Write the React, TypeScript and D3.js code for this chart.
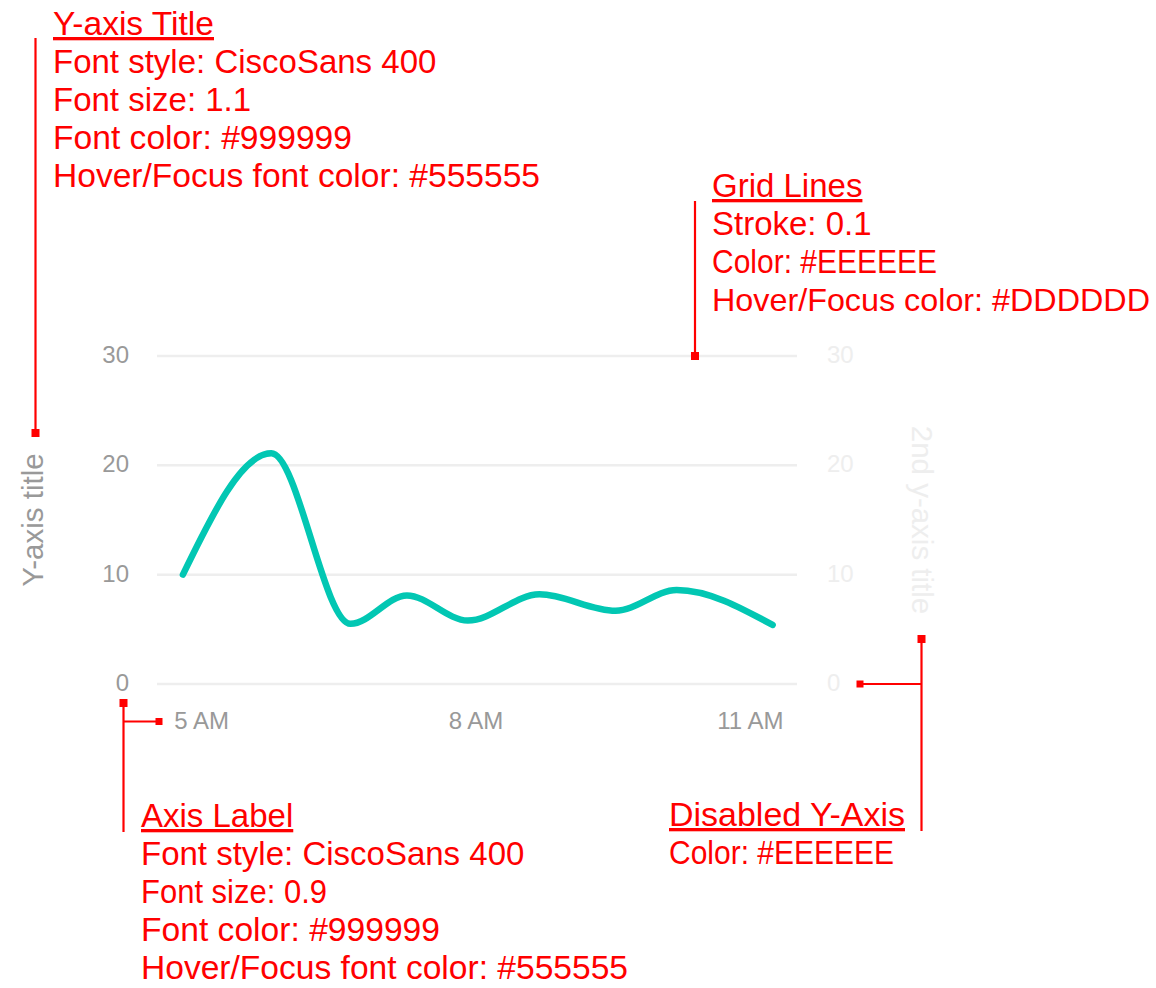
import React from "react";
import * as d3 from "d3";

// ---- data ----
const times = ["04:47", "05:45", "06:37", "07:14", "07:54", "08:41", "09:31", "10:11", "11:14"];
const values = [10.0, 21.1, 5.5, 8.1, 5.8, 8.2, 6.7, 8.6, 5.4];
const xTickTimes = ["05:00", "08:00", "11:00"];
const yTicks = [0, 10, 20, 30];
const yTitle = "Y-axis title";
const y2Title = "2nd y-axis title";

const noteYTitle = ["Y-axis Title", "Font style: CiscoSans 400", "Font size: 1.1", "Font color: #999999", "Hover/Focus font color: #555555"];
const noteGrid = ["Grid Lines", "Stroke: 0.1", "Color: #EEEEEE", "Hover/Focus color: #DDDDDD"];
const noteAxisLabel = ["Axis Label", "Font style: CiscoSans 400", "Font size: 0.9", "Font color: #999999", "Hover/Focus font color: #555555"];
const noteDisabled = ["Disabled Y-Axis", "Color: #EEEEEE"];

const parse = d3.timeParse("%H:%M");
const fmt = d3.timeFormat("%-I %p");

const FONT = "'Liberation Sans', Arial, sans-serif";
const RED = "#FF0000";

function Note({
  x,
  y,
  lines,
  widths = [],
  sizes = [],
}: {
  x: number;
  y: number;
  lines: string[];
  widths?: (number | undefined)[];
  sizes?: (number | undefined)[];
}) {
  return (
    <g fontFamily={FONT} fontSize={33} fill={RED}>
      {lines.map((l, i) => (
        <text
          key={i}
          x={x}
          y={y + i * 38}
          fontSize={sizes[i]}
          textDecoration={i === 0 ? "underline" : undefined}
          textLength={widths[i]}
          lengthAdjust={widths[i] ? "spacingAndGlyphs" : undefined}
        >
          {l}
        </text>
      ))}
    </g>
  );
}

function Marker({ x, y, s = 8 }: { x: number; y: number; s?: number }) {
  return <rect x={x - s / 2} y={y - s / 2} width={s} height={s} fill={RED} />;
}

export default function App() {
  const W = 1156;
  const H = 988;
  const x = d3.scaleTime().domain([parse("04:30")!, parse("11:30")!]).range([157, 797]);
  const y = d3.scaleLinear().domain([0, 30]).range([684, 356]);
  const pts = times.map((t, i) => ({ t: parse(t)!, v: values[i] }));
  const line = d3
    .line<{ t: Date; v: number }>()
    .x((d) => x(d.t))
    .y((d) => y(d.v))
    .curve(d3.curveMonotoneX);
  const [x0, x1] = x.range();
  const yMid = (y(0) + y(30)) / 2;

  return (
    <svg width={W} height={H} style={{ position: "absolute", left: 0, top: 0, background: "#fff" }}>
      {/* grid */}
      {yTicks.map((t) => (
        <line key={t} x1={x0} x2={x1} y1={y(t)} y2={y(t)} stroke="#EEEEEE" strokeWidth={2.5} />
      ))}
      {/* left axis labels */}
      <g fontFamily={FONT} fontSize={24} fill="#999999" textAnchor="end">
        {yTicks.map((t) => (
          <text key={t} x={129} y={y(t) + 7}>
            {t}
          </text>
        ))}
      </g>
      {/* right (disabled) axis labels */}
      <g fontFamily={FONT} fontSize={24} fill="#EEEEEE" textAnchor="start">
        {yTicks.map((t) => (
          <text key={t} x={827} y={y(t) + 7}>
            {t}
          </text>
        ))}
      </g>
      {/* x axis labels */}
      <g fontFamily={FONT} fontSize={24} fill="#999999" textAnchor="middle">
        {xTickTimes.map((t) => (
          <text key={t} x={x(parse(t)!) - 1} y={729}>
            {fmt(parse(t)!)}
          </text>
        ))}
      </g>
      {/* axis titles */}
      <text
        transform={`translate(43,${yMid}) rotate(-90)`}
        textAnchor="middle"
        fontFamily={FONT}
        fontSize={29.5}
        fill="#999999"
      >
        {yTitle}
      </text>
      <text
        transform={`translate(912,${yMid}) rotate(90)`}
        textAnchor="middle"
        fontFamily={FONT}
        fontSize={29.5}
        fill="#EEEEEE"
      >
        {y2Title}
      </text>
      {/* series */}
      <path d={line(pts) || ""} fill="none" stroke="#02C7B3" strokeWidth={6.5} strokeLinecap="round" strokeLinejoin="round" />

      {/* annotations */}
      <g stroke={RED} strokeWidth={2.2} fill="none">
        <line x1={35.5} x2={35.5} y1={38} y2={433} />
        <line x1={695} x2={695} y1={201} y2={356} />
        <line x1={123.5} x2={123.5} y1={703} y2={832} />
        <line x1={123.5} x2={159} y1={721.5} y2={721.5} />
        <line x1={921.5} x2={921.5} y1={639} y2={831} />
        <line x1={860} x2={921.5} y1={684} y2={684} />
      </g>
      <Marker x={35.5} y={433} />
      <Marker x={695} y={356} />
      <Marker x={123.5} y={703} />
      <Marker x={159} y={721.5} s={7} />
      <Marker x={921.5} y={639} />
      <Marker x={860} y={684} s={7} />

      <Note x={53} y={35} lines={noteYTitle} widths={[161, undefined, undefined, 299, 487]} />
      <Note x={712} y={197} lines={noteGrid} widths={[undefined, undefined, 225, 438]} sizes={[undefined, undefined, undefined, 32]} />
      <Note x={141} y={827} lines={noteAxisLabel} widths={[undefined, undefined, 186, 299, 487]} />
      <Note x={669} y={826} lines={noteDisabled} widths={[236, 225]} />
    </svg>
  );
}
